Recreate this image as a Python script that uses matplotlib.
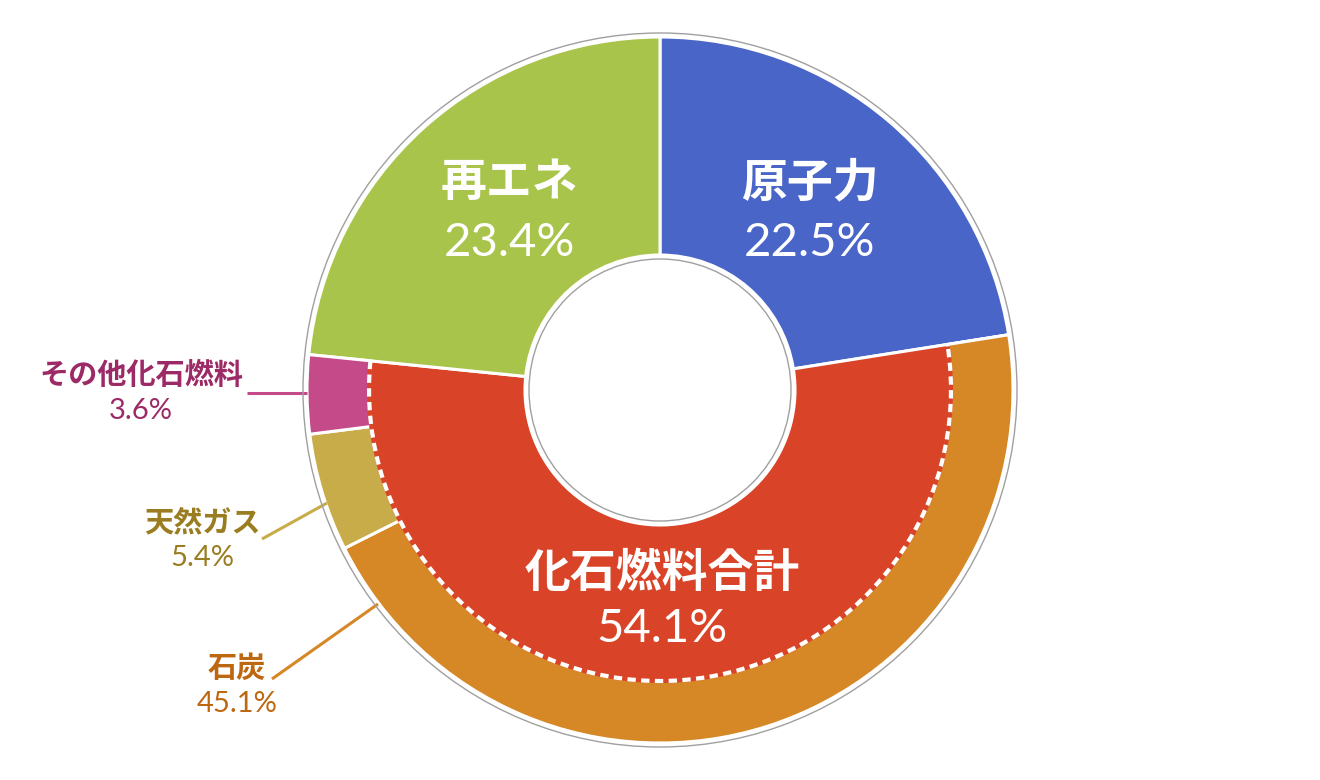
import matplotlib
matplotlib.use('Agg')
import matplotlib.pyplot as plt
from matplotlib.patches import Circle, Arc

plt.rcParams['font.family'] = ['Noto Sans CJK JP', 'DejaVu Sans']

# power mix (%)
main_labels = ['原子力', '化石燃料合計', '再エネ']
main_values = [22.5, 54.1, 23.4]
main_colors = ['#4a65c8', '#d94428', '#a9c44a']

fossil_labels = ['石炭', '天然ガス', 'その他化石燃料']
fossil_values = [45.1, 5.4, 3.6]
fossil_colors = ['#d68726', '#c8ac4a', '#c44a8a']
fossil_text_colors = ['#bd6810', '#9a7d20', '#9c2a66']

W, H = 1320, 780
cx, cy = 660, 780 - 390
R = 353
R_hole = 135
R_fossil = 291
EDGE = 2.2

fig = plt.figure(figsize=(13.2, 7.8), dpi=100)
ax = fig.add_axes([0, 0, 1, 1])

# main ring: nuclear / fossil total / renewables
ax.pie(main_values, colors=main_colors, startangle=90, counterclock=False,
       center=(cx, cy), radius=R,
       wedgeprops=dict(width=R - R_hole, edgecolor='white', linewidth=EDGE))

# outer ring for fossil breakdown (other slices hidden)
outer_values = [main_values[0]] + fossil_values + [main_values[2]]
outer_colors = ['none'] + fossil_colors + ['none']
wedges, _ = ax.pie(outer_values, colors=outer_colors, startangle=90,
                   counterclock=False, center=(cx, cy), radius=R,
                   wedgeprops=dict(width=R - R_fossil, edgecolor='white',
                                   linewidth=EDGE))
wedges[0].set_visible(False)
wedges[-1].set_visible(False)

# dashed border around fossil total (red base, white dashes)
t1 = 90 - 360 * (main_values[0] + main_values[1]) / 100
t2 = 90 - 360 * main_values[0] / 100
ax.add_patch(Arc((cx, cy), 2 * R_fossil, 2 * R_fossil, theta1=t1 + 0.4,
                 theta2=t2 - 0.4, color=main_colors[1], lw=EDGE + 0.8,
                 zorder=4))
ax.add_patch(Arc((cx, cy), 2 * R_fossil, 2 * R_fossil, theta1=t1, theta2=t2,
                 color='white', lw=3, linestyle=(0, (2.0, 1.3)), zorder=5))

# thin gray rings
ax.add_patch(Circle((cx, cy), R + 4, fill=False, ec='#a0a0a0', lw=1, zorder=6))
ax.add_patch(Circle((cx, cy), R_hole - 4, fill=False, ec='#a0a0a0', lw=1, zorder=6))

big = dict(ha='center', va='center', color='white', zorder=7)
pct_font = dict(family=['Lato', 'DejaVu Sans'], fontweight='normal')

main_pos = [(810, 183, 243), (662, 574, 629), (509, 183, 243)]
for lab, val, (x, y1, y2) in zip(main_labels, main_values, main_pos):
    ax.text(x, H - y1, lab, fontsize=33, fontweight='bold', **big)
    ax.text(x, H - y2, f'{val:.1f}%', fontsize=34, **pct_font, **big)

small_pos = [(237, 668, 704), (202, 522, 558), (141, 375, 411)]
leaders = [((272, 679), (378, 604)), ((262, 539), (327, 503)),
           ((247, 393), (307, 393))]
for lab, val, tc, lc, (x, y1, y2), (p, q) in zip(
        fossil_labels, fossil_values, fossil_text_colors, fossil_colors,
        small_pos, leaders):
    ax.text(x, H - y1, lab, fontsize=21, fontweight='bold', color=tc,
            ha='center', va='center')
    ax.text(x, H - y2, f'{val:.1f}%', fontsize=21, color=tc, ha='center',
            va='center', **pct_font)
    ax.plot([p[0], q[0]], [H - p[1], H - q[1]], color=lc, lw=2.2,
            solid_capstyle='butt', zorder=4)

ax.set_xlim(0, W)
ax.set_ylim(0, H)
ax.set_aspect('equal')
ax.axis('off')

fig.savefig('out.png', dpi=100)
